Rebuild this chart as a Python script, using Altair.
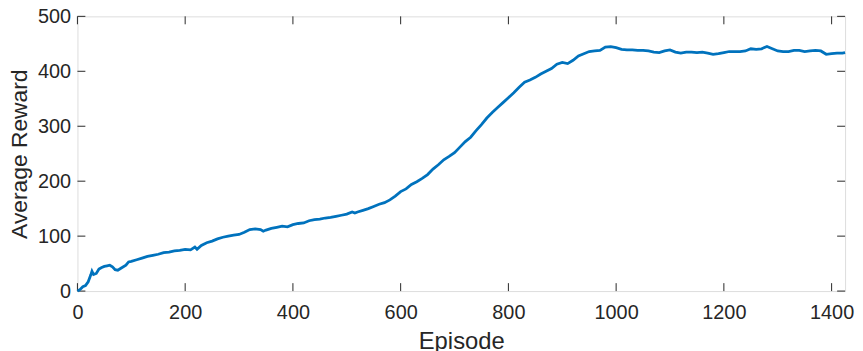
import altair as alt
import pandas as pd

episodes = [0, 5, 10, 15, 20, 25, 27, 30, 35, 40, 45, 50, 55, 60, 65, 70, 75, 80, 90, 95,
            100, 110, 120, 130, 140, 150, 160, 170, 180, 190, 200, 210, 218, 222, 230, 240,
            250, 260, 270, 280, 290, 300, 310, 320, 330, 340, 345, 350, 360, 370, 380, 390,
            400, 410, 420, 430, 440, 450, 460, 470, 480, 490, 500, 510, 515, 520, 530, 540,
            550, 560, 570, 580, 590, 600, 610, 620, 630, 640, 650, 660, 670, 680, 690, 700,
            710, 720, 730, 740, 750, 760, 770, 780, 790, 800, 810, 820, 830, 840, 850, 860,
            870, 880, 890, 900, 910, 920, 930, 940, 950, 960, 970, 980, 990, 1000, 1010, 1020,
            1030, 1040, 1050, 1060, 1070, 1080, 1090, 1100, 1110, 1120, 1130, 1140, 1150, 1160,
            1170, 1180, 1190, 1200, 1210, 1220, 1230, 1240, 1250, 1260, 1270, 1280, 1290, 1300,
            1310, 1320, 1330, 1340, 1350, 1360, 1370, 1380, 1390, 1400, 1410, 1420, 1425]
rewards = [0, 3, 8, 10, 17, 30, 36, 30, 32, 40, 43, 45, 46, 47, 44, 39, 38, 41, 47, 53,
           54, 57, 60, 63, 65, 67, 70, 71, 73, 74, 76, 75, 80, 76, 83, 88,
           91, 95, 98, 100, 102, 103, 107, 112, 113, 112, 109, 111, 114, 116, 118, 117,
           121, 123, 124, 128, 130, 131, 133, 134, 136, 138, 140, 144, 142, 144, 147, 150,
           154, 158, 161, 166, 173, 181, 186, 194, 199, 205, 212, 222, 230, 239, 245, 252,
           262, 272, 280, 292, 303, 315, 325, 334, 343, 352, 361, 371, 380, 384, 389, 395,
           400, 405, 413, 416, 414, 420, 428, 432, 436, 437, 438, 444, 445, 443, 440, 439,
           439, 438, 438, 437, 435, 434, 437, 439, 435, 433, 435, 435, 434, 435,
           433, 431, 432, 434, 436, 436, 436, 437, 441, 440, 441, 445, 441, 437,
           436, 436, 438, 438, 436, 437, 438, 437, 431, 432, 433, 433, 434]

x_ticks = [0, 200, 400, 600, 800, 1000, 1200, 1400]
y_ticks = [0, 100, 200, 300, 400, 500]

W, H = 774, 277
AXC = "#262626"
FONT = "Liberation Sans"

df = pd.DataFrame({"Episode": episodes, "Reward": rewards})
xt = pd.DataFrame({"t": x_ticks})
yt = pd.DataFrame({"t": y_ticks})

xscale = alt.Scale(domain=[0, 1425], nice=False, zero=False)
yscale = alt.Scale(domain=[0, 500], nice=False)

line = alt.Chart(df).mark_line(color="#0072BD", strokeWidth=2.8).encode(
    x=alt.X("Episode:Q", scale=xscale,
            axis=alt.Axis(values=x_ticks, format="d", title="Episode", domain=False,
                          ticks=False, tickSize=0, grid=False, labelPadding=12,
                          labelFontSize=20, labelColor=AXC, labelFont=FONT, titleFont=FONT,
                          titleFontSize=24, titleFontWeight="normal", titleColor=AXC,
                          titleY=58, titleBaseline="alphabetic", labelFlush=False)),
    y=alt.Y("Reward:Q", scale=yscale,
            axis=alt.Axis(values=y_ticks, format="d", title="Average Reward", domain=False,
                          ticks=False, tickSize=0, grid=False, labelPadding=7,
                          labelFontSize=20, labelColor=AXC, labelFont=FONT, titleFont=FONT,
                          titleFontSize=23, titleFontWeight="normal", titleColor=AXC,
                          titleAngle=270, titleX=-51, titleY=H / 2,
                          titleBaseline="alphabetic", titleAlign="center", labelFlush=False)),
)

tick_len = 8
xb = alt.Chart(xt).mark_rule(color=AXC, strokeWidth=1).encode(
    x=alt.X("t:Q", scale=xscale), y=alt.value(H), y2=alt.value(H - tick_len))
xtop = alt.Chart(xt).mark_rule(color=AXC, strokeWidth=1).encode(
    x=alt.X("t:Q", scale=xscale), y=alt.value(0), y2=alt.value(tick_len))
yl = alt.Chart(yt).mark_rule(color=AXC, strokeWidth=1).encode(
    y=alt.Y("t:Q", scale=yscale), x=alt.value(0), x2=alt.value(tick_len))
yr = alt.Chart(yt).mark_rule(color=AXC, strokeWidth=1).encode(
    y=alt.Y("t:Q", scale=yscale), x=alt.value(W), x2=alt.value(W - tick_len))

chart = alt.layer(xb, xtop, yl, yr, line).properties(
    width=W, height=H,
    autosize=alt.AutoSizeParams(type="none"),
    padding={"left": 70, "top": 7, "right": 10, "bottom": 59},
).configure_view(stroke=AXC, strokeWidth=1).configure(background="white")

chart.save("out.html", embed_options={"renderer": "svg", "actions": False})
